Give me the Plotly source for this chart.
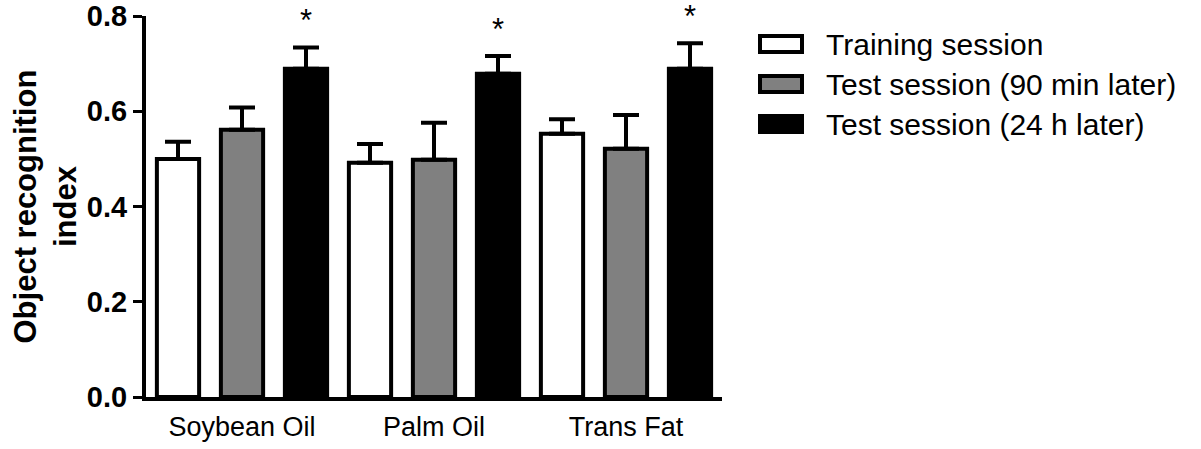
import plotly.graph_objects as go

# Object recognition index per diet group and session (mean + SEM)
diets = ["Soybean Oil", "Palm Oil", "Trans Fat"]
sessions = ["Training session", "Test session (90 min later)", "Test session (24 h later)"]

training_mean = [0.500, 0.492, 0.553]
training_sem = [0.036, 0.039, 0.030]

test90_mean = [0.561, 0.498, 0.521]
test90_sem = [0.047, 0.078, 0.071]

test24_mean = [0.689, 0.679, 0.689]
test24_sem = [0.045, 0.037, 0.054]

# sessions significantly different from training
significant = ["*", "*", "*"]

y_ticks = [0.0, 0.2, 0.4, 0.6, 0.8]

fills = ["#ffffff", "#808080", "#000000"]
FONT = "Liberation Sans, Arial, sans-serif"

# plot area in pixels
W, H = 1201, 449
L, R, T, B = 146, 479, 16, 52
PW, PH = W - L - R, H - T - B

fig = go.Figure()
series = [(training_mean, training_sem), (test90_mean, test90_sem), (test24_mean, test24_sem)]
for name, (means, sems), fill in zip(sessions, series, fills):
    fig.add_trace(go.Bar(
        x=diets, y=means, name=name,
        marker=dict(color=fill, line=dict(color="black", width=4)),
        error_y=dict(type="data", symmetric=False, array=sems, arrayminus=[0] * len(sems),
                     color="black", thickness=4, width=13),
        showlegend=False,
    ))

# asterisks above the 24 h bars
for i, (m, s, mark) in enumerate(zip(test24_mean, test24_sem, significant)):
    fig.add_annotation(x=i + 1 / 3, y=m + s, xref="x", yref="y", text=mark,
                       showarrow=False, yanchor="bottom", yshift=7,
                       font=dict(family=FONT, size=31, color="black"))

# y-axis title
fig.add_annotation(xref="paper", yref="paper", x=0, y=0.5, xshift=-101,
                   text="<b>Object recognition<br>index</b>", textangle=-90,
                   showarrow=False, xanchor="center", yanchor="middle",
                   font=dict(family=FONT, size=31, color="black"))

# legend drawn as boxes with labels
def px_x(v):
    return (v - L) / PW

def px_y(v):
    return (H - B - v) / PH

for k, (name, fill) in enumerate(zip(sessions, fills)):
    cy = 44 + 40 * k
    fig.add_shape(type="rect", xref="paper", yref="paper",
                  x0=px_x(760), x1=px_x(802), y0=px_y(cy - 8), y1=px_y(cy + 8),
                  fillcolor=fill, line=dict(color="black", width=4))
    fig.add_annotation(xref="paper", yref="paper", x=px_x(824), y=px_y(cy),
                       text=name, showarrow=False, xanchor="left", yanchor="middle",
                       font=dict(family=FONT, size=30, color="black"))

fig.update_layout(
    width=W, height=H,
    margin=dict(l=L, r=R, t=T, b=B, pad=0, autoexpand=False),
    paper_bgcolor="white", plot_bgcolor="white",
    barmode="group", bargap=0, bargroupgap=0.34,
    font=dict(family=FONT, color="black"),
)
fig.update_xaxes(
    range=[-0.5, 2.5], showline=True, linecolor="black", linewidth=4, automargin=False,
    showgrid=False, zeroline=False, ticks="outside", ticklen=3, tickcolor="rgba(0,0,0,0)",
    tickfont=dict(family=FONT, size=27, color="black"),
)
fig.update_yaxes(
    range=[0, 0.8], tickvals=y_ticks, tickformat=".1f", automargin=False,
    showline=True, linecolor="black", linewidth=4,
    showgrid=False, zeroline=False, ticks="outside", ticklen=9, tickwidth=3, tickcolor="black",
    tickfont=dict(family=FONT, size=29, color="black", weight="bold"),
)

fig.write_html("out.html")
